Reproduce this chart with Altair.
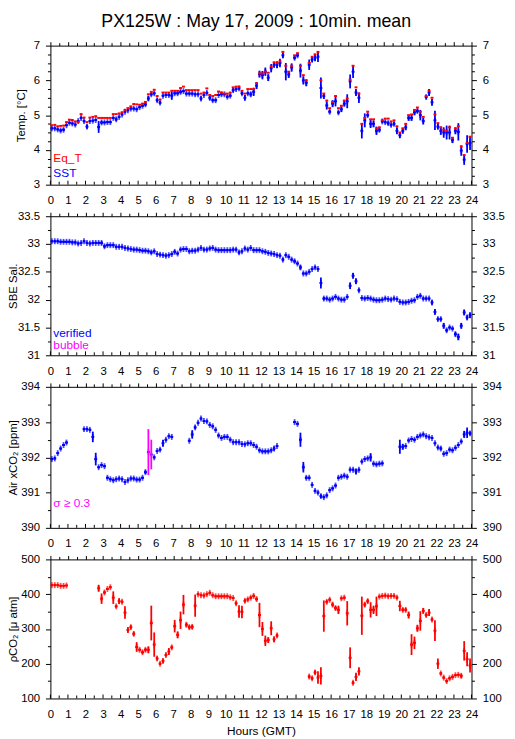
import altair as alt
import pandas as pd

FONT = "Liberation Sans"
TITLE = "PX125W : May 17, 2009 : 10min. mean"
X_TITLE = "Hours (GMT)"
Y_TITLES = ["Temp. [°C]", "SBE Sal.", "Air xCO₂ [ppm]", "ρCO₂ [μ atm]"]
LEGEND_TEMP = ["Eq_T", "SST"]
LEGEND_SAL = ["verified", "bubble"]
LEGEND_XCO2 = ["σ ≥ 0.3"]
X_MAJOR = list(range(0, 25))
X_MINOR = [k * 0.5 for k in range(49)]

RED = "#ff0000"
BLUE = "#0000ff"
MAGENTA = "#ff00ff"

# 10-minute slots (144 per day); None = no data
SST = [
    4.62, 4.62, 4.59, 4.56, 4.58, 4.71,
    4.78, 4.76, 4.73, 4.83, 4.92, 4.83,
    4.67, 4.83, 4.84, 4.86, 4.66, 4.79,
    4.79, 4.80, 4.80, 4.92, 4.88, 4.95,
    5.02, 5.10, 5.14, 5.19, 5.19, 5.17,
    5.23, 5.27, 5.31, 5.48, 5.60, 5.63,
    5.43, 5.36, 5.56, 5.58, 5.58, 5.56,
    5.63, 5.63, 5.67, 5.69, 5.62, 5.62,
    5.62, 5.60, 5.60, 5.48, 5.58, 5.64,
    5.50, 5.43, 5.43, 5.58, 5.60, 5.60,
    5.53, 5.56, 5.72, 5.75, 5.77, 5.63,
    5.50, 5.63, 5.60, 5.67, 5.85, 6.18,
    6.15, 6.25, 6.08, 6.35, 6.45, 6.45,
    6.50, 6.72, 6.25, 6.17, 6.37, 6.65,
    6.72, 6.28, 6.00, 5.93, 6.45, 6.60,
    6.65, 6.68, 5.78, 5.55, 5.28, 5.10,
    5.33, 5.40, 5.08, 5.17, 5.33, 5.40,
    5.97, 6.25, 5.65, 5.50, 4.55, 4.85,
    5.00, 4.75, 4.75, 4.55, 4.58, 4.82,
    4.80, 4.77, 4.72, 4.75, 4.55, 4.42,
    4.55, 4.65, 4.92, 4.92, 5.08, 5.12,
    5.00, 4.83, 5.52, 5.65, 5.37, 4.85,
    4.67, 4.55, 4.50, 4.50, 4.50, 4.28,
    4.55, 4.52, 3.98, 3.72, 4.17, 4.20,
]
SST_ERR = [
    0.03, 0.03, 0.03, 0.04, 0.04, 0.03,
    0.03, 0.03, 0.03, 0.03, 0.04, 0.04,
    0.06, 0.03, 0.03, 0.03, 0.17, 0.05,
    0.03, 0.03, 0.03, 0.03, 0.05, 0.03,
    0.03, 0.03, 0.03, 0.03, 0.03, 0.03,
    0.03, 0.03, 0.05, 0.07, 0.04, 0.04,
    0.05, 0.05, 0.03, 0.03, 0.04, 0.12,
    0.04, 0.04, 0.05, 0.03, 0.03, 0.03,
    0.03, 0.03, 0.03, 0.06, 0.04, 0.04,
    0.07, 0.04, 0.04, 0.03, 0.03, 0.03,
    0.04, 0.04, 0.06, 0.04, 0.04, 0.05,
    0.08, 0.04, 0.06, 0.12, 0.10, 0.10,
    0.12, 0.12, 0.10, 0.12, 0.08, 0.10,
    0.12, 0.08, 0.25, 0.10, 0.12, 0.05,
    0.05, 0.20, 0.12, 0.10, 0.15, 0.08,
    0.10, 0.15, 0.30, 0.08, 0.12, 0.05,
    0.10, 0.15, 0.05, 0.08, 0.08, 0.20,
    0.20, 0.18, 0.10, 0.15, 0.22, 0.20,
    0.05, 0.12, 0.10, 0.12, 0.06, 0.05,
    0.04, 0.05, 0.05, 0.05, 0.10, 0.08,
    0.08, 0.08, 0.08, 0.08, 0.08, 0.06,
    0.15, 0.10, 0.05, 0.10, 0.10, 0.28,
    0.08, 0.12, 0.15, 0.20, 0.20, 0.08,
    0.10, 0.25, 0.15, 0.15, 0.25, 0.20,
]
EQ_T = [
    4.71, 4.72, 4.68, 4.69, 4.70, 4.80,
    4.87, 4.86, 4.82, 4.80, 5.03, 4.93,
    4.80, 4.93, 4.95, 4.97, 4.92, 4.92,
    4.92, 4.92, 4.92, 5.03, 5.03, 5.05,
    5.08, 5.15, 5.20, 5.25, 5.32, 5.31,
    5.30, 5.33, 5.38, 5.60, 5.67, 5.73,
    5.55, 5.45, 5.65, 5.65, 5.65, 5.70,
    5.70, 5.70, 5.78, 5.82, 5.72, 5.72,
    5.72, 5.72, 5.72, 5.62, 5.65, 5.77,
    5.58, 5.55, 5.58, 5.68, 5.65, 5.62,
    5.62, 5.65, 5.80, 5.82, 5.82, 5.70,
    5.62, 5.75, 5.75, 5.75, 5.92, 6.20,
    6.20, 6.25, 6.22, 6.40, 6.52, 6.50,
    6.55, 6.82, 6.42, 6.25, 6.42, 6.72,
    6.78, 6.42, 6.15, 6.00, 6.50, 6.68,
    6.75, 6.82, 6.00, 5.62, 5.42, 5.20,
    5.38, 5.55, 5.20, 5.27, 5.42, 5.48,
    6.02, 6.42, 5.80, 5.62, 4.75, 4.92,
    5.10, 4.88, 4.88, 4.62, 4.65, 4.85,
    4.90, 4.90, 4.82, 4.85, 4.68, 4.50,
    4.62, 4.75, 5.00, 5.02, 5.15, 5.22,
    5.10, 4.95, 5.55, 5.70, 5.50, 5.02,
    4.77, 4.65, 4.58, 4.55, 4.65, 4.35,
    4.62, 4.68, 4.10, 3.85, 4.20, 4.38,
]
SAL = [
    33.05, 33.05, 33.05, 33.04, 33.04, 33.04,
    33.04, 33.03, 33.03, 33.01, 33.02, 33.05,
    33.02, 33.01, 33.02, 33.02, 33.02, 33.02,
    32.96, 32.98, 32.98, 32.98, 32.95, 32.95,
    32.95, 32.93, 32.92, 32.91, 32.90, 32.90,
    32.89, 32.88, 32.88, 32.87, 32.85, 32.87,
    32.82, 32.81, 32.80, 32.79, 32.80, 32.82,
    32.86, 32.83, 32.90, 32.91, 32.91, 32.87,
    32.88, 32.88, 32.90, 32.93, 32.90, 32.90,
    32.92, 32.93, 32.90, 32.89, 32.89, 32.89,
    32.89, 32.89, 32.90, 32.90, 32.85, 32.87,
    32.92, 32.90, 32.93, 32.89, 32.89, 32.89,
    32.87, 32.86, 32.84, 32.83, 32.82, 32.80,
    32.79, 32.72, 32.80, 32.77, 32.72, 32.69,
    32.65, 32.58, 32.47, 32.47, 32.50, 32.55,
    32.58, 32.55, 32.30, 32.02, 32.02, 32.00,
    32.02, 32.05, 32.02, 32.00, 32.00, 32.05,
    32.25, 32.43, 32.33, 32.17, 32.03, 32.02,
    32.03, 32.02, 32.00, 31.99, 31.99, 32.00,
    32.02, 32.01, 32.00, 32.02, 32.01, 31.96,
    31.95, 31.95, 31.96, 31.98, 31.99, 32.05,
    32.07, 32.02, 32.02, 32.02, 31.95, 31.78,
    31.65, 31.65, 31.53, 31.45, 31.50, 31.48,
    31.38, 31.33, 31.53, 31.77, 31.68, 31.72,
]
SAL_ERR = [
    0.02, 0.02, 0.02, 0.02, 0.02, 0.02,
    0.02, 0.02, 0.02, 0.02, 0.02, 0.02,
    0.02, 0.02, 0.02, 0.02, 0.02, 0.03,
    0.03, 0.02, 0.02, 0.02, 0.02, 0.02,
    0.02, 0.02, 0.02, 0.02, 0.02, 0.02,
    0.02, 0.02, 0.02, 0.02, 0.03, 0.02,
    0.02, 0.02, 0.02, 0.02, 0.02, 0.02,
    0.03, 0.02, 0.02, 0.02, 0.02, 0.02,
    0.02, 0.02, 0.02, 0.02, 0.02, 0.02,
    0.02, 0.02, 0.02, 0.02, 0.02, 0.02,
    0.02, 0.02, 0.02, 0.02, 0.03, 0.02,
    0.02, 0.02, 0.02, 0.02, 0.02, 0.02,
    0.02, 0.02, 0.02, 0.02, 0.02, 0.02,
    0.02, 0.03, 0.02, 0.02, 0.02, 0.03,
    0.02, 0.04, 0.02, 0.02, 0.02, 0.02,
    0.02, 0.02, 0.10, 0.03, 0.02, 0.02,
    0.02, 0.02, 0.02, 0.02, 0.02, 0.02,
    0.06, 0.05, 0.05, 0.03, 0.02, 0.02,
    0.02, 0.02, 0.02, 0.02, 0.02, 0.02,
    0.02, 0.02, 0.02, 0.02, 0.02, 0.02,
    0.02, 0.02, 0.02, 0.02, 0.02, 0.02,
    0.02, 0.02, 0.02, 0.02, 0.04, 0.05,
    0.03, 0.03, 0.05, 0.03, 0.02, 0.02,
    0.04, 0.06, 0.05, 0.05, 0.04, 0.05,
]
XCO2 = [
    391.95, 391.97, 392.12, 392.25, 392.35, 392.42,
    None, None, None, None, None, 392.80,
    392.80, 392.78, 392.58, 391.95, 391.72, 391.78,
    391.75, 391.42, 391.38, 391.35, 391.38, 391.40,
    391.38, 391.30, 391.35, 391.40, 391.40, 391.37,
    391.37, 391.42, 391.58, 392.15, 392.08, 392.00,
    392.18, 392.22, 392.40, 392.50, 392.60, 392.58,
    None, None, None, None, None, 392.47,
    392.65, 392.85, 392.98, 393.10, 393.03, 393.02,
    392.92, 392.88, 392.78, 392.62, 392.55, 392.58,
    392.58, 392.50, 392.43, 392.43, 392.43, 392.38,
    392.37, 392.40, 392.40, 392.35, 392.30, 392.20,
    392.17, 392.17, 392.17, 392.20, 392.25, 392.32,
    None, None, None, None, None, 393.00,
    392.95, 392.50, 391.72, 391.42, 391.42, 391.22,
    391.05, 391.00, 390.90, 390.87, 390.92, 391.07,
    391.12, 391.20, 391.42, 391.45, 391.48, 391.45,
    391.65, 391.65, 391.60, 391.65, 391.88, 391.95,
    391.97, 392.00, 391.82, 391.80, 391.82, 391.83,
    None, None, None, None, None, 392.30,
    392.30, 392.32, 392.48, 392.52, 392.50, 392.58,
    392.62, 392.65, 392.60, 392.57, 392.55, 392.40,
    392.28, 392.25, 392.10, 392.12, 392.22, 392.20,
    392.27, 392.35, 392.45, 392.65, 392.70, 392.68,
]
XCO2_ERR = [
    0.03, 0.03, 0.03, 0.03, 0.03, 0.03,
    None, None, None, None, None, 0.03,
    0.03, 0.03, 0.15, 0.18, 0.03, 0.03,
    0.03, 0.03, 0.03, 0.03, 0.03, 0.03,
    0.03, 0.03, 0.03, 0.03, 0.03, 0.03,
    0.03, 0.03, 0.05, 0.65, 0.42, 0.03,
    0.03, 0.03, 0.10, 0.03, 0.03, 0.03,
    None, None, None, None, None, 0.03,
    0.12, 0.05, 0.03, 0.03, 0.03, 0.03,
    0.03, 0.03, 0.03, 0.03, 0.03, 0.03,
    0.03, 0.03, 0.03, 0.03, 0.03, 0.03,
    0.03, 0.03, 0.03, 0.03, 0.03, 0.03,
    0.03, 0.03, 0.03, 0.03, 0.06, 0.03,
    None, None, None, None, None, 0.03,
    0.03, 0.20, 0.15, 0.04, 0.03, 0.03,
    0.03, 0.03, 0.05, 0.03, 0.03, 0.03,
    0.03, 0.03, 0.03, 0.03, 0.03, 0.03,
    0.03, 0.03, 0.08, 0.03, 0.03, 0.03,
    0.03, 0.12, 0.03, 0.03, 0.03, 0.03,
    None, None, None, None, None, 0.20,
    0.08, 0.03, 0.03, 0.03, 0.03, 0.03,
    0.03, 0.03, 0.03, 0.03, 0.03, 0.03,
    0.03, 0.05, 0.03, 0.03, 0.03, 0.03,
    0.03, 0.03, 0.03, 0.10, 0.15, 0.05,
]
PCO2 = [
    426, 426, 426, 424, 424, 425,
    None, None, None, None, None, None,
    None, None, None, None, 417, 387,
    405, 415, 420, 390, 365, 380,
    378, 347, 297, 305, 286, 248,
    240, 233, 240, 240, 317, 255,
    215, 200, 208, 225, 235, 247,
    308, 283, 325, 370, 312, 305,
    306, 367, 400, 397, 396, 400,
    404, 397, 394, 394, 394, 394,
    394, 391, 389, 374, 350, 349,
    381, 385, 390, 395, 386, 340,
    300, 266, 268, 302, 270, 281,
    None, None, None, None, None, None,
    None, None, None, None, 163, 158,
    175, 160, 165, 337, 378, 384,
    370, 360, 355, 388, 390, 345,
    217, 145, 162, 178, 338, 370,
    380, 355, 355, 365, 393, 395,
    396, 394, 395, 395, 390, 366,
    355, 355, 340, 255, 260, 302,
    323, 352, 340, 347, 327, 295,
    200, 172, 160, 150, 158, 162,
    167, 168, 165, 237, 213, 195,
]
PCO2_ERR = [
    2, 2, 3, 2, 2, 2,
    None, None, None, None, None, None,
    None, None, None, None, 10, 15,
    5, 3, 3, 18, 4, 8,
    4, 18, 8, 6, 6, 14,
    4, 5, 5, 10, 50, 35,
    6, 4, 6, 5, 10, 5,
    18, 10, 25, 28, 6, 6,
    6, 32, 3, 3, 3, 3,
    3, 3, 3, 3, 3, 3,
    3, 3, 3, 5, 18, 18,
    5, 4, 4, 4, 5, 35,
    20, 15, 8, 20, 8, 5,
    None, None, None, None, None, None,
    None, None, None, None, 5, 5,
    6, 18, 25, 45, 5, 4,
    6, 6, 12, 3, 3, 35,
    30, 5, 12, 12, 55, 6,
    6, 22, 12, 28, 3, 3,
    3, 3, 3, 3, 3, 15,
    5, 5, 10, 30, 18, 10,
    28, 8, 5, 10, 5, 30,
    15, 4, 4, 4, 4, 4,
    3, 3, 6, 28, 20, 20,
]


def frame(vals, errs=None):
    rows = []
    for i, v in enumerate(vals):
        if v is None:
            continue
        e = 0.0
        if errs is not None and errs[i] is not None:
            e = errs[i]
        rows.append({"t": (i + 0.5) / 6, "t0": i / 6, "t1": (i + 1) / 6,
                     "v": v, "lo": v - e, "hi": v + e, "err": e})
    return pd.DataFrame(rows)


W = 427
XS = alt.Scale(domain=[0, 24], nice=False, zero=False)


def major_test(step):
    return f"abs(datum.value / {step} - round(datum.value / {step})) < 0.001"


def y_axis(orient, minor, step, H, title=None, title_x=-37):
    test = major_test(step)
    kw = dict(orient=orient, values=minor, grid=False, labelFlush=False,
              labelOverlap=False, labelPadding=6,
              tickSize={"condition": {"test": test, "value": 5}, "value": 3},
              labelExpr=f"({test}) ? '' + datum.value : ''")
    if title is not None:
        kw.update(title=title, titleX=title_x, titleY=H / 2, titleAngle=270,
                  titleAlign="center", titleBaseline="middle")
    else:
        kw.update(title=None)
    return alt.Axis(**kw)


def bottom_axis(show_title):
    kw = dict(orient="bottom", values=X_MAJOR, ticks=False, tickSize=0,
              labelPadding=10, labelFlush=False, labelOverlap=False, grid=False,
              labelExpr="'' + datum.value")
    if show_title:
        kw.update(title=X_TITLE, titleFontSize=12, titlePadding=6)
    else:
        kw.update(title=None)
    return alt.Axis(**kw)


TOP_AXIS = alt.Axis(orient="top", values=X_MINOR, labels=False, grid=False,
                    tickSize={"condition": {"test": "datum.value % 1 === 0", "value": 4}, "value": 3},
                    title=None)


def panel(H, ydom, minor, step, ytitle, title_x, main_df, main_color, vcolor,
          extra_h=None, texts=(), show_xtitle=False):
    ys = alt.Scale(domain=ydom, nice=False, zero=False)
    layers = []
    # horizontal arms (10-minute span) of the main series; carries left + bottom axes
    layers.append(
        alt.Chart(main_df).mark_rule(strokeWidth=2).encode(
            x=alt.X("t0:Q", scale=XS, axis=bottom_axis(show_xtitle)),
            x2="t1:Q",
            y=alt.Y("v:Q", scale=ys, axis=y_axis("left", minor, step, H, ytitle, title_x)),
            color=alt.value(main_color),
        )
    )
    # vertical error bars; carries right + top axes
    layers.append(
        alt.Chart(main_df).mark_rule(strokeWidth=1.8).encode(
            x=alt.X("t:Q", scale=XS, axis=TOP_AXIS),
            y=alt.Y("lo:Q", scale=ys, axis=y_axis("right", minor, step, H)),
            y2="hi:Q",
            color=vcolor,
        )
    )
    # small vertical arm so every point reads as a cross
    layers.append(
        alt.Chart(main_df).mark_tick(orient="vertical", size=6, thickness=1.8).encode(
            x=alt.X("t:Q", scale=XS, axis=None),
            y=alt.Y("v:Q", scale=ys, axis=None),
            color=vcolor,
        )
    )
    if extra_h is not None:
        df, col = extra_h
        layers.append(
            alt.Chart(df).mark_rule(strokeWidth=2).encode(
                x=alt.X("t0:Q", scale=XS, axis=None),
                x2="t1:Q",
                y=alt.Y("v:Q", scale=ys, axis=None),
                color=alt.value(col),
            )
        )
    tick_major = pd.DataFrame({"tick": X_MAJOR})
    tick_minor = pd.DataFrame({"tick": [v for v in X_MINOR if v % 1 != 0]})
    for tdf, ln in ((tick_major, 4), (tick_minor, 3)):
        layers.append(
            alt.Chart(tdf).mark_rule(color="black", strokeWidth=1).encode(
                x=alt.X("tick:Q", scale=XS, axis=None),
                y=alt.value(H), y2=alt.value(H - ln),
            )
        )
    for label, col, ypos in texts:
        layers.append(
            alt.Chart(pd.DataFrame({"label": [label]})).mark_text(
                align="left", baseline="middle", fontSize=12, font=FONT, color=col
            ).encode(x=alt.value(3), y=alt.value(ypos), text="label:N")
        )
    return alt.layer(*layers).resolve_axis(x="independent", y="independent").properties(
        width=W, height=H)


sst_df = frame(SST, SST_ERR)
eq_df = frame(EQ_T)
sal_df = frame(SAL, SAL_ERR)
xco2_df = frame(XCO2, XCO2_ERR)
pco2_df = frame(PCO2, PCO2_ERR)

p1 = panel(141, [3, 7], [3 + 0.25 * k for k in range(17)], 1, Y_TITLES[0], -29,
           sst_df, BLUE, alt.value(BLUE), extra_h=(eq_df, RED),
           texts=[(LEGEND_TEMP[0], RED, 114), (LEGEND_TEMP[1], BLUE, 129)])
p2 = panel(141, [31, 33.5], [31 + 0.25 * k for k in range(11)], 0.5, Y_TITLES[1], -37,
           sal_df, BLUE, alt.value(BLUE),
           texts=[(LEGEND_SAL[0], BLUE, 118), (LEGEND_SAL[1], MAGENTA, 131)])
p3 = panel(143, [390, 394], [390 + 0.5 * k for k in range(9)], 1, Y_TITLES[2], -37,
           xco2_df, BLUE,
           alt.condition("datum.err >= 0.3", alt.value(MAGENTA), alt.value(BLUE)),
           texts=[(LEGEND_XCO2[0], MAGENTA, 118)])
p4 = panel(141, [100, 500], [100 + 50 * k for k in range(9)], 100, Y_TITLES[3], -37,
           pco2_df, RED, alt.value(RED), show_xtitle=True)

chart = alt.vconcat(p1, p2, p3, p4, spacing=4).properties(
    title=alt.TitleParams(TITLE, fontSize=18, font=FONT, fontWeight="normal",
                          anchor="middle", offset=9, color="black"),
    padding={"left": 0, "top": 0, "right": 2, "bottom": 0},
).configure_axis(
    domainColor="black", tickColor="black", labelColor="black",
    labelFont=FONT, labelFontSize=11.5, titleFont=FONT, titleFontSize=11.5,
    titleFontWeight="normal", titleColor="black", domainWidth=1, tickWidth=1,
).configure_view(stroke=None)

chart.save("out.html", embed_options={"renderer": "svg", "actions": False})
